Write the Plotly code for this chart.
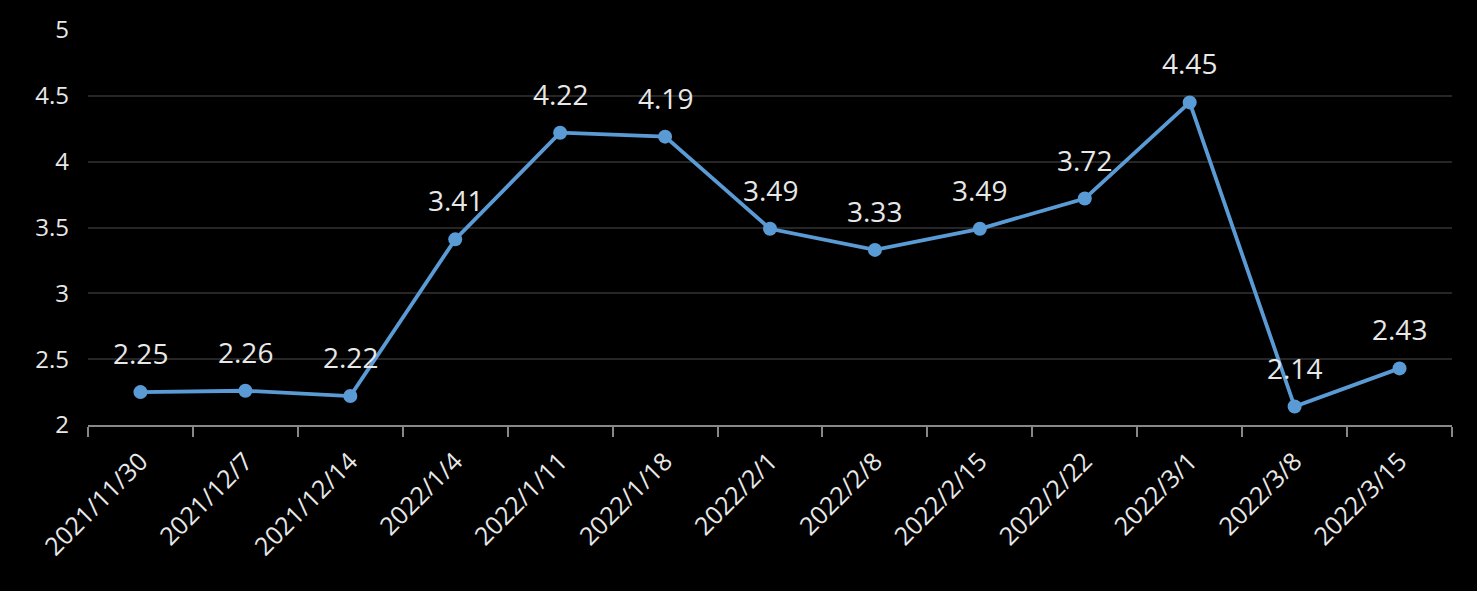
import plotly.graph_objects as go

dates = ["2021/11/30", "2021/12/7", "2021/12/14", "2022/1/4", "2022/1/11", "2022/1/18",
         "2022/2/1", "2022/2/8", "2022/2/15", "2022/2/22", "2022/3/1", "2022/3/8", "2022/3/15"]
values = [2.25, 2.26, 2.22, 3.41, 4.22, 4.19, 3.49, 3.33, 3.49, 3.72, 4.45, 2.14, 2.43]
labels = [f"{v:.2f}" for v in values]

fig = go.Figure()
fig.add_trace(go.Scatter(
    x=dates, y=values, mode="lines+markers",
    line=dict(color="#5b9bd5", width=3.8),
    marker=dict(color="#5b9bd5", size=14),
    cliponaxis=False, hoverinfo="skip",
))
for d, v, t in zip(dates, values, labels):
    fig.add_annotation(x=d, y=v, text=t, showarrow=False, yanchor="middle",
                       yshift=39, font=dict(family="Open Sans", size=28, color="#e8e8e8"))

fig.update_layout(
    width=1477, height=591,
    paper_bgcolor="#000000", plot_bgcolor="#000000",
    margin=dict(l=88, r=25, t=28, b=166),
    showlegend=False,
    font=dict(family="Open Sans", color="#e8e8e8"),
)
fig.update_xaxes(
    type="category", range=[-0.5, 12.5], tickson="boundaries",
    ticks="outside", ticklen=10, tickcolor="#888888", tickwidth=1.5,
    showline=True, linecolor="#888888", linewidth=1.5,
    showgrid=False, tickangle=-45, ticklabelstandoff=10,
    tickfont=dict(family="Open Sans", size=25, color="#e8e8e8"),
)
fig.update_yaxes(
    range=[2, 5], tickvals=[2, 2.5, 3, 3.5, 4, 4.5, 5],
    ticktext=["2", "2.5", "3", "3.5", "4", "4.5", "5"],
    showgrid=True, gridcolor="#262626", gridwidth=1.5,
    zeroline=False, showline=False, ticks="",
    ticklabelstandoff=18,
    tickfont=dict(family="Open Sans", size=24, color="#e8e8e8"),
)

fig.write_html(
    "out.html",
    config={"displayModeBar": False},
    post_script="document.body.style.margin='0';document.body.style.background='#000';document.body.style.overflow='hidden';",
)
